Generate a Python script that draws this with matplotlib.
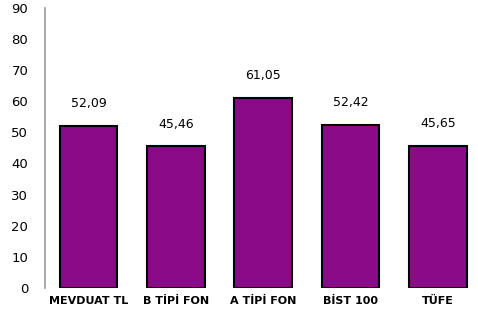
import matplotlib
matplotlib.use('Agg')
import matplotlib.pyplot as plt

categories = ['MEVDUAT TL', 'B TİPİ FON', 'A TİPİ FON', 'BİST 100', 'TÜFE']
values = [52.09, 45.46, 61.05, 52.42, 45.65]
yticks = [0, 10, 20, 30, 40, 50, 60, 70, 80, 90]

fig = plt.figure(figsize=(4.78, 3.17), dpi=100)
ax = fig.add_axes([0.094, 0.0915, 0.906, 0.884])

x = range(len(categories))
bars = ax.bar(x, values, width=0.66, color='#8B0A87', edgecolor='black', linewidth=1.5)

for xi, v in zip(x, values):
    ax.text(xi, v + 5, '{:.2f}'.format(v).replace('.', ','), ha='center', va='bottom',
            fontsize=9, color='black')

ax.set_xlim(-0.5, 4.46)
ax.set_ylim(0, 90)
ax.set_yticks(yticks)
ax.set_yticklabels([str(t) for t in yticks], fontsize=9.5)
ax.set_xticks(list(x))
ax.set_xticklabels(categories, fontsize=8, fontweight='bold')
ax.tick_params(axis='both', length=0)
ax.tick_params(axis='y', pad=12)
ax.tick_params(axis='x', pad=6)

for s in ['top', 'right', 'bottom']:
    ax.spines[s].set_visible(False)
ax.spines['left'].set_color('#999999')
ax.spines['left'].set_linewidth(1.2)

fig.savefig('out.png', dpi=100)
